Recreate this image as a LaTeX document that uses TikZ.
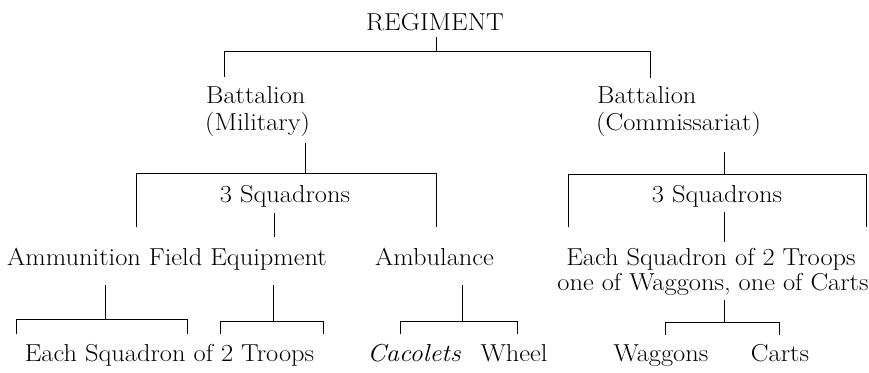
\documentclass[tikz,border=0pt]{standalone}
\usepackage{fontspec}
\setmainfont{Latin Modern Roman}[FakeStretch=1.08]
\begin{document}
\begin{tikzpicture}[x=1pt,y=-1pt,
  lbl/.style={inner sep=0pt,font=\fontsize{24.5}{27}\selectfont},
  conn/.style={line width=0.9pt}]
\useasboundingbox (0,0) rectangle (869,372);
% texts
\node[lbl,anchor=base] (reg) at (435,30) {REGIMENT};
\node[lbl,anchor=base west] (bm1) at (206,103) {Battalion};
\node[lbl,anchor=base west] (bm2) at (205,130) {(Military)};
\node[lbl,anchor=base west] (bc1) at (597,103) {Battalion};
\node[lbl,anchor=base west] (bc2) at (596,130) {(Commissariat)};
\node[lbl,anchor=base] (sqL) at (285,202) {3 Squadrons};
\node[lbl,anchor=base] (sqR) at (717,202) {3 Squadrons};
\node[lbl,anchor=base] (amm) at (167,265) {Ammunition Field Equipment};
\node[lbl,anchor=base] (amb) at (434.5,265) {Ambulance};
\node[lbl,anchor=base] (es1) at (711,265) {Each Squadron of 2 Troops};
\node[lbl,anchor=base] (es2) at (713,290) {one of Waggons, one of Carts};
\node[lbl,anchor=base] (each) at (169.5,361) {Each Squadron of 2 Troops};
\node[lbl,anchor=base] (cac) at (414,361) {\itshape Cacolets};
\node[lbl,anchor=base] (whl) at (514,361) {Wheel};
\node[lbl,anchor=base] (wag) at (661,361) {Waggons};
\node[lbl,anchor=base] (crt) at (780,361) {Carts};
% junction coordinates
\coordinate (r0) at (436,37);  \coordinate (r1) at (436,51);
\coordinate (rl) at (224,51);  \coordinate (rr) at (650,51);
\coordinate (rlb) at (224,77); \coordinate (rrb) at (650,78);
\coordinate (m0) at (305,143); \coordinate (m1) at (305,173);
\coordinate (ml) at (136,173); \coordinate (mr) at (436,173);
\coordinate (mlb) at (136,227); \coordinate (mrb) at (436,227);
\coordinate (s0) at (274,213); \coordinate (s1) at (274,237);
\coordinate (a0) at (105,285); \coordinate (a1) at (105,319);
\coordinate (al) at (16,319);  \coordinate (ar) at (187,319);
\coordinate (alb) at (16,334); \coordinate (arb) at (187,334);
\coordinate (f0) at (273,285); \coordinate (f1) at (273,321);
\coordinate (fl) at (220,321); \coordinate (fr) at (323,321);
\coordinate (flb) at (220,334); \coordinate (frb) at (323,334);
\coordinate (b0) at (462,285); \coordinate (b1) at (462,321);
\coordinate (bl) at (400,321); \coordinate (br) at (517,321);
\coordinate (blb) at (400,334); \coordinate (brb) at (517,334);
\coordinate (c0) at (724,152); \coordinate (c1) at (724,174);
\coordinate (cl) at (568,174); \coordinate (cr) at (866,174);
\coordinate (clb) at (568,227); \coordinate (crb) at (866,227);
\coordinate (t0) at (724,212); \coordinate (t1) at (724,242);
\coordinate (w0) at (724,300); \coordinate (w1) at (724,322);
\coordinate (wl) at (665,322); \coordinate (wr) at (779,322);
\coordinate (wlb) at (665,335); \coordinate (wrb) at (779,335);
% connectors
\draw[conn] (r0) -- (r1);
\draw[conn] (rlb) -- (rl) -- (rr) -- (rrb);
\draw[conn] (m0) -- (m1);
\draw[conn] (mlb) -- (ml) -- (mr) -- (mrb);
\draw[conn] (s0) -- (s1);
\draw[conn] (a0) -- (a1);
\draw[conn] (alb) -- (al) -- (ar) -- (arb);
\draw[conn] (f0) -- (f1);
\draw[conn] (flb) -- (fl) -- (fr) -- (frb);
\draw[conn] (b0) -- (b1);
\draw[conn] (blb) -- (bl) -- (br) -- (brb);
\draw[conn] (c0) -- (c1);
\draw[conn] (clb) -- (cl) -- (cr) -- (crb);
\draw[conn] (t0) -- (t1);
\draw[conn] (w0) -- (w1);
\draw[conn] (wlb) -- (wl) -- (wr) -- (wrb);
\end{tikzpicture}
\end{document}
